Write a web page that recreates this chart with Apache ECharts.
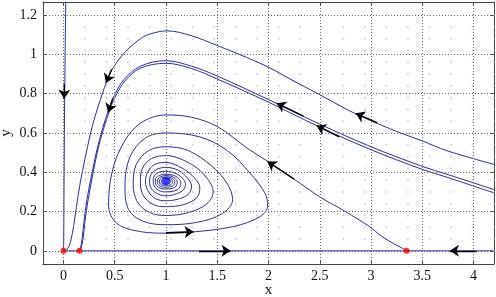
<!DOCTYPE html>
<html>
<head>
<meta charset="utf-8">
<script src="https://cdn.jsdelivr.net/npm/echarts@6/dist/echarts.min.js"></script>
<style>html,body{margin:0;padding:0;background:#fff;}#c{width:496px;height:297px;}</style>
</head>
<body>
<div id="c"></div>
<script>
// ---- tick labels ----
const xTicks = [0, 0.5, 1, 1.5, 2, 2.5, 3, 3.5, 4];
const yTicks = [0, 0.2, 0.4, 0.6, 0.8, 1, 1.2];

// ---- quiver grid positions (faint background field) ----
const fieldX = [0, 0.21, 0.42, 0.63, 0.84, 1.05, 1.26, 1.47, 1.68, 1.89, 2.1, 2.31, 2.52, 2.73, 2.94, 3.15, 3.36, 3.57, 3.78, 3.99, 4.2];
const fieldY = [0, 0.06, 0.12, 0.18, 0.24, 0.3, 0.36, 0.42, 0.48, 0.54, 0.6, 0.66, 0.72, 0.78, 0.84, 0.9, 0.96, 1.02, 1.08, 1.14, 1.2];

// ---- trajectories ----
const axisX = [[0, 0], [4.2, 0]];
const verticalY = [[0.022, 1.27], [0.016, 1.0], [0.01, 0.7], [0.005, 0.3], [0.002, 0.05], [0, 0]];
const curveA = [[4.2, 0.44], [3.74, 0.51], [3.5, 0.56], [3.29, 0.60], [2.86, 0.695], [2.5, 0.795], [2.21, 0.875], [2.0, 0.935], [1.786, 0.985], [1.5, 1.045], [1.25, 1.095], [1.01, 1.12], [0.85, 1.105], [0.75, 1.08], [0.59, 1.006], [0.456, 0.905], [0.36, 0.77], [0.30, 0.67], [0.26, 0.59], [0.21, 0.47], [0.163, 0.346], [0.125, 0.22], [0.098, 0.124], [0.075, 0.06], [0.055, 0.025], [0.03, 0.006], [0.0, 0.0]];
const curveB1 = [[4.2, 0.312], [3.74, 0.39], [3.5, 0.43], [3.0, 0.53], [2.5, 0.645], [2.0, 0.77], [1.5, 0.89], [1.25, 0.94], [1.0, 0.968], [0.75, 0.94], [0.587, 0.87], [0.49, 0.785], [0.44, 0.72], [0.38, 0.62], [0.326, 0.514], [0.28, 0.40], [0.228, 0.26], [0.2, 0.15], [0.18, 0.056], [0.168, 0.02], [0.158, 0.0]];
const curveB2 = [[4.2, 0.295], [3.74, 0.375], [3.5, 0.415], [3.0, 0.515], [2.5, 0.63], [2.0, 0.757], [1.5, 0.875], [1.25, 0.928], [1.0, 0.955], [0.75, 0.93], [0.6, 0.865], [0.5, 0.78], [0.45, 0.715], [0.39, 0.62], [0.335, 0.514], [0.29, 0.40], [0.24, 0.26], [0.21, 0.15], [0.19, 0.06], [0.175, 0.02], [0.158, 0.0]];
const spiral = [[3.35, 0.0], [3.31, 0.012], [3.22, 0.037], [3.1, 0.075], [2.99, 0.122], [2.75, 0.2], [2.5, 0.275], [2.25, 0.365], [2.0, 0.453], [1.8, 0.52], [1.5, 0.633], [1.25, 0.68], [1.0, 0.692],
  [0.75, 0.65], [0.586, 0.55], [0.473, 0.40], [0.44, 0.23], [0.52, 0.14], [0.75, 0.098], [1.0, 0.09], [1.24, 0.095], [1.66, 0.124], [1.92, 0.175], [1.99, 0.225], [1.97, 0.29], [1.82, 0.395], [1.6, 0.51], [1.33, 0.58], [1.0, 0.60],
  [0.8, 0.575], [0.65, 0.48], [0.60, 0.33], [0.635, 0.21], [0.78, 0.15], [1.0, 0.133], [1.3, 0.145], [1.55, 0.19], [1.65, 0.26], [1.60, 0.34], [1.45, 0.43], [1.22, 0.51], [1.0, 0.53],
  [0.83, 0.51], [0.71, 0.44], [0.68, 0.34], [0.72, 0.25], [0.84, 0.195], [1.0, 0.18], [1.22, 0.195], [1.4, 0.24], [1.46, 0.3], [1.4, 0.37], [1.25, 0.44], [1.0, 0.485],
  [0.86, 0.47], [0.77, 0.42], [0.75, 0.35], [0.78, 0.28], [0.88, 0.235], [1.0, 0.225], [1.17, 0.235], [1.3, 0.27], [1.33, 0.32], [1.28, 0.37], [1.16, 0.42], [1.0, 0.45],
  [0.89, 0.44], [0.82, 0.40], [0.80, 0.35], [0.83, 0.30], [0.9, 0.265], [1.0, 0.255], [1.13, 0.265], [1.22, 0.29], [1.25, 0.33], [1.21, 0.37], [1.12, 0.41], [1.0, 0.425],
  [0.91, 0.415], [0.85, 0.385], [0.84, 0.35], [0.86, 0.315], [0.92, 0.29], [1.0, 0.28], [1.1, 0.29], [1.17, 0.31], [1.19, 0.34], [1.16, 0.37], [1.09, 0.395], [1.0, 0.405],
  [0.93, 0.40], [0.88, 0.375], [0.875, 0.35], [0.89, 0.325], [0.94, 0.305], [1.0, 0.30], [1.08, 0.305], [1.13, 0.32], [1.145, 0.345], [1.12, 0.37], [1.07, 0.385], [1.0, 0.39],
  [0.94, 0.385], [0.90, 0.37], [0.895, 0.35], [0.91, 0.33], [0.95, 0.318], [1.0, 0.315], [1.06, 0.318], [1.1, 0.33], [1.11, 0.35], [1.09, 0.368], [1.05, 0.38], [1.0, 0.383],
  [0.95, 0.378], [0.92, 0.365], [0.915, 0.35], [0.93, 0.335], [0.96, 0.326], [1.0, 0.324], [1.05, 0.327], [1.08, 0.337], [1.085, 0.352], [1.07, 0.365], [1.04, 0.374], [1.0, 0.376],
  [0.96, 0.372], [0.94, 0.362], [0.935, 0.352], [0.945, 0.34], [0.97, 0.334], [1.0, 0.333], [1.04, 0.335], [1.06, 0.343], [1.065, 0.354], [1.05, 0.363], [1.03, 0.369], [1.0, 0.37],
  [0.97, 0.366], [0.955, 0.358], [0.955, 0.348], [0.97, 0.341], [1.0, 0.34], [1.03, 0.343], [1.045, 0.352], [1.035, 0.362], [1.0, 0.366]];

// ---- equilibria ----
const equilibria = [[0, 0], [0.156, 0], [3.347, 0]];
const focus = [[1.0, 0.355]];

// ---- direction arrows: [tail, head] ----
const arrows = [
  [[0.008, 0.85], [0.007, 0.775]],
  [[0.47, 0.925], [0.415, 0.855]],
  [[0.48, 0.775], [0.437, 0.705]],
  [[3.06, 0.653], [2.85, 0.70]],
  [[2.34, 0.686], [2.08, 0.752]],
  [[2.69, 0.58], [2.47, 0.637]],
  [[2.25, 0.365], [1.99, 0.455]],
  [[1.0, 0.092], [1.27, 0.097]],
  [[1.32, 0], [1.63, 0]],
  [[4.03, 0], [3.77, 0]]
];

const LINE = '#2e2e9c';
const SERIF = '"Liberation Serif", "DejaVu Serif", serif';
const fieldPts = [];
fieldX.forEach(x => fieldY.forEach(y => fieldPts.push([x, y])));

const labelFont = { fontFamily: SERIF, fontSize: 14, color: '#111' };
function xAx(pos, showLabel) {
  return {
    type: 'value', position: pos, min: -0.2, max: 4.2,
    axisLine: { show: true, onZero: false, lineStyle: { color: '#444', width: 1 } },
    axisTick: { show: true, inside: true, length: 4, customValues: xTicks, lineStyle: { color: '#444' } },
    axisLabel: Object.assign({ show: showLabel, customValues: xTicks, margin: 5 }, labelFont),
    splitLine: { show: false },
    name: showLabel ? 'x' : '', nameLocation: 'middle', nameGap: 19, nameMoveOverlap: false,
    nameTextStyle: { fontFamily: SERIF, fontSize: 15, color: '#111' }
  };
}
function yAx(pos, showLabel) {
  return {
    type: 'value', position: pos, min: -0.067, max: 1.267,
    axisLine: { show: true, onZero: false, lineStyle: { color: '#444', width: 1 } },
    axisTick: { show: true, inside: true, length: 4, customValues: yTicks, lineStyle: { color: '#444' } },
    axisLabel: Object.assign({ show: showLabel, customValues: yTicks, margin: 6 }, labelFont),
    splitLine: { show: false },
    name: showLabel ? 'y' : '', nameLocation: 'middle', nameGap: 29, nameMoveOverlap: false,
    nameTextStyle: { fontFamily: SERIF, fontSize: 15, color: '#111' }
  };
}

function curve(data, z) {
  return { type: 'line', data: data, showSymbol: false, symbol: 'none', smooth: 0.35, clip: true,
    lineStyle: { color: LINE, width: 1 }, z: z || 3, silent: true };
}

const chart = echarts.init(document.getElementById('c'), null, { renderer: 'canvas' });
chart.setOption({
  animation: false,
  backgroundColor: '#fff',
  textStyle: { fontFamily: SERIF },
  grid: { left: 43, right: 2, top: 2, bottom: 33, containLabel: false, outerBoundsMode: 'none' },
  xAxis: [xAx('bottom', true), xAx('top', false)],
  yAxis: [yAx('left', true), yAx('right', false)],
  series: [
    { type: 'scatter', data: fieldPts, symbol: 'circle', symbolSize: 2, itemStyle: { color: '#c4c4c4' }, silent: true, z: 1,
      markLine: { silent: true, symbol: ['none', 'none'], label: { show: false },
        lineStyle: { type: [1, 2], color: '#6a6a6a', width: 1 },
        data: xTicks.map(v => ({ xAxis: v })).concat(yTicks.map(v => ({ yAxis: v }))) } },
    curve(axisX),
    curve(verticalY),
    curve(curveA),
    curve(curveB1),
    curve(curveB2),
    curve(spiral),
    { type: 'lines', coordinateSystem: 'cartesian2d', data: arrows.map(a => ({ coords: a })),
      symbol: ['none', 'arrow'], symbolSize: [6, 9], lineStyle: { color: '#000', width: 1.4, opacity: 1 }, z: 6, silent: true },
    { type: 'scatter', data: focus, symbol: 'circle', symbolSize: 8, itemStyle: { color: '#1010ff' }, z: 7, silent: true },
    { type: 'scatter', data: equilibria, symbol: 'circle', symbolSize: 6, itemStyle: { color: '#ff0000' }, z: 8, silent: true }
  ]
});
</script>
</body>
</html>
